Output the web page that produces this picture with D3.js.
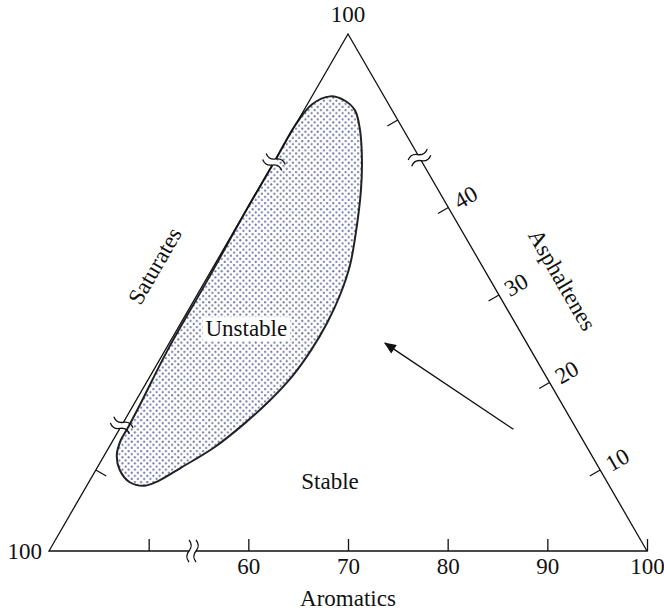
<!DOCTYPE html>
<html>
<head>
<meta charset="utf-8">
<script src="https://cdn.jsdelivr.net/npm/d3@7"></script>
<style>
body { margin: 0; background: #fff; }
svg { display: block; }
text { font-family: "Liberation Serif", "Times New Roman", serif; fill: #111; }
</style>
</head>
<body>
<div class="chart"></div>
<script>
// ---- data ----
const aroTicks = [50, 60, 70, 80, 90, 100];
const aroLabels = ['', '60', '70', '80', '90', '100'];
const asphTicks = [10, 20, 30, 40, 50];
const asphLabels = ['10', '20', '30', '40', ''];
const satTicks = [90];
const aroBreaks = [54.4];
const asphBreaks = [45.7];
const satBreaks = [84.9, 54.8];

// unstable region outline: aromatics (x) and asphaltenes-height (y)
const regionAro = [68.2, 69.7, 70.7, 71.2, 71.4, 71.3, 70.9, 70.2, 69.2, 67.9, 66.3, 64.4, 62.2,
  59.6, 56.6, 53.3, 50.9, 49.6, 48.1, 47.1, 46.8, 47.2, 47.9, 49.1, 51.9, 55.9, 59.8, 62.7, 64.7, 66.4];
const regionAsph = [52.7, 52.2, 51.1, 48.9, 45.4, 42.0, 38.0, 33.4, 30.0, 26.8, 23.7, 20.7, 18.0,
  15.3, 12.6, 10.3, 8.7, 8.2, 8.6, 10.0, 11.7, 13.4, 14.8, 17.4, 23.7, 31.7, 39.7, 45.4, 49.4, 51.8];

const arrowAro = [86.6, 73.7];
const arrowAsph = [14.65, 24.5];

const regionLabels = ['Unstable', 'Stable'];
const labelAro = [59.8, 68.2];
const labelAsph = [25.3, 7.8];

// ---- layout ----
const w = 664, h = 612;
const x0 = 49, x1 = 647, baseY = 551, topY = 34;
const fs = 23;

const xScale = d3.scaleLinear().domain([40, 100]).range([x0, x1]);
const yScale = d3.scaleLinear().domain([0, 60]).range([557.5, 32.5]);
const apexX = xScale(70);

const rightEdgeX = (y) => x1 - (baseY - y) * (x1 - apexX) / (baseY - topY);
const leftEdgeX = (y) => x0 + (baseY - y) * (apexX - x0) / (baseY - topY);
const len = Math.hypot(x1 - apexX, baseY - topY);
const rDir = [(apexX - x1) / len, (topY - baseY) / len];   // up along right edge
const rOut = [-rDir[1], rDir[0]];                           // outward normal
const lDir = [(apexX - x0) / len, (topY - baseY) / len];
const lOut = [lDir[1], -lDir[0]];

const svg = d3.select('div.chart')
  .append('svg')
  .attr('width', w)
  .attr('height', h);

const defs = svg.append('defs');
const ps = 6.2;
const pat = defs.append('pattern')
  .attr('id', 'dots')
  .attr('patternUnits', 'userSpaceOnUse')
  .attr('width', ps)
  .attr('height', ps);
pat.append('rect').attr('width', ps).attr('height', ps).attr('fill', '#fff');
pat.append('circle').attr('cx', ps / 4).attr('cy', ps / 4).attr('r', 1.05).attr('fill', '#6c71a6');
pat.append('circle').attr('cx', ps * 3 / 4).attr('cy', ps * 3 / 4).attr('r', 1.05).attr('fill', '#6c71a6');

defs.append('marker')
  .attr('id', 'head')
  .attr('viewBox', '0 0 12 10')
  .attr('refX', 11)
  .attr('refY', 5)
  .attr('markerWidth', 13)
  .attr('markerHeight', 10)
  .attr('markerUnits', 'userSpaceOnUse')
  .attr('orient', 'auto')
  .append('path')
  .attr('d', 'M0,0L12,5L0,10Z')
  .attr('fill', '#111');

// unstable region
const pts = regionAro.map((a, i) => [xScale(a), yScale(regionAsph[i])]);
svg.append('path')
  .attr('d', d3.line().curve(d3.curveCatmullRomClosed.alpha(0.5))(pts))
  .attr('fill', 'url(#dots)')
  .attr('stroke', '#222')
  .attr('stroke-width', 2);

// triangle
svg.append('path')
  .attr('d', `M${x0},${baseY}L${x1},${baseY}L${apexX},${topY}Z`)
  .attr('fill', 'none')
  .attr('stroke', '#111')
  .attr('stroke-width', 1.3)
  .attr('stroke-linejoin', 'miter');

// bottom axis (aromatics)
const xAxis = d3.axisBottom(xScale)
  .tickValues(aroTicks)
  .tickSizeInner(-12)
  .tickSizeOuter(0)
  .tickPadding(7)
  .tickFormat((d, i) => aroLabels[i]);
const gx = svg.append('g')
  .attr('transform', 'translate(0,' + baseY + ')')
  .call(xAxis);
gx.select('.domain').remove();
gx.selectAll('line').attr('stroke', '#111').attr('stroke-width', 1.3);
gx.selectAll('text')
  .attr('font-size', fs)
  .attr('font-family', '"Liberation Serif", serif')
  .attr('fill', '#111');

// right edge ticks (asphaltenes)
asphTicks.forEach((v, i) => {
  const y = yScale(v), x = rightEdgeX(y);
  svg.append('line')
    .attr('x1', x).attr('y1', y)
    .attr('x2', x - rOut[0] * 12).attr('y2', y - rOut[1] * 12)
    .attr('stroke', '#111').attr('stroke-width', 1.3);
  const lx = x + rOut[0] * 20, ly = y + rOut[1] * 20;
  svg.append('text')
    .text(asphLabels[i])
    .attr('font-size', fs)
    .attr('text-anchor', 'middle')
    .attr('dominant-baseline', 'central')
    .attr('transform', `translate(${lx},${ly}) rotate(-30)`);
});

// left edge ticks (saturates)
satTicks.forEach((v) => {
  const y = yScale(100 - v), x = leftEdgeX(y);
  svg.append('line')
    .attr('x1', x).attr('y1', y)
    .attr('x2', x - lOut[0] * 12).attr('y2', y - lOut[1] * 12)
    .attr('stroke', '#111').attr('stroke-width', 1.3);
});

// axis break marks
function breakMark(px, py, u, n) {
  const g = svg.append('g');
  g.append('line')
    .attr('x1', px - u[0] * 3.5).attr('y1', py - u[1] * 3.5)
    .attr('x2', px + u[0] * 3.5).attr('y2', py + u[1] * 3.5)
    .attr('stroke', '#fff').attr('stroke-width', 4);
  [-3.5, 3.5].forEach((d) => {
    const cx = px + u[0] * d, cy = py + u[1] * d;
    const p = (s, t) => (cx + n[0] * s + u[0] * t) + ',' + (cy + n[1] * s + u[1] * t);
    g.append('path')
      .attr('d', `M${p(-11, 0)}Q${p(-5.5, 4.5)} ${p(0, 0)}Q${p(5.5, -4.5)} ${p(11, 0)}`)
      .attr('fill', 'none')
      .attr('stroke', '#111')
      .attr('stroke-width', 1.3);
  });
}
aroBreaks.forEach((v) => breakMark(xScale(v), baseY, [1, 0], [0, 1]));
asphBreaks.forEach((v) => {
  const y = yScale(v);
  breakMark(rightEdgeX(y), y, rDir, rOut);
});
satBreaks.forEach((v) => {
  const y = yScale(100 - v);
  breakMark(leftEdgeX(y), y, lDir, lOut);
});

// arrow
svg.append('line')
  .attr('x1', xScale(arrowAro[0])).attr('y1', yScale(arrowAsph[0]))
  .attr('x2', xScale(arrowAro[1])).attr('y2', yScale(arrowAsph[1]))
  .attr('stroke', '#111')
  .attr('stroke-width', 1.3)
  .attr('marker-end', 'url(#head)');

// region labels
regionLabels.forEach((t, i) => {
  const tx = svg.append('text')
    .text(t)
    .attr('font-size', fs)
    .attr('text-anchor', 'middle')
    .attr('x', xScale(labelAro[i]))
    .attr('y', yScale(labelAsph[i]));
  if (i === 0) {
    const bb = tx.node().getBBox();
    svg.insert('rect', () => tx.node())
      .attr('x', bb.x - 3).attr('y', bb.y + 1)
      .attr('width', bb.width + 6).attr('height', bb.height - 1)
      .attr('fill', '#fff');
  }
});

// vertex labels
svg.append('text').text('100')
  .attr('font-size', fs).attr('text-anchor', 'middle')
  .attr('x', apexX).attr('y', topY - 12);
svg.append('text').text('100')
  .attr('font-size', fs).attr('text-anchor', 'end')
  .attr('dominant-baseline', 'central')
  .attr('x', x0 - 7).attr('y', baseY);

// axis titles
svg.append('text').text('Aromatics')
  .attr('font-size', fs).attr('text-anchor', 'middle')
  .attr('x', apexX).attr('y', 606);
svg.append('text').text('Asphaltenes')
  .attr('font-size', fs).attr('text-anchor', 'middle')
  .attr('dominant-baseline', 'central')
  .attr('transform', 'translate(562,280) rotate(60)');
svg.append('text').text('Saturates')
  .attr('font-size', fs).attr('text-anchor', 'middle')
  .attr('dominant-baseline', 'central')
  .attr('transform', 'translate(155,266) rotate(-60)');
</script>
</body>
</html>
